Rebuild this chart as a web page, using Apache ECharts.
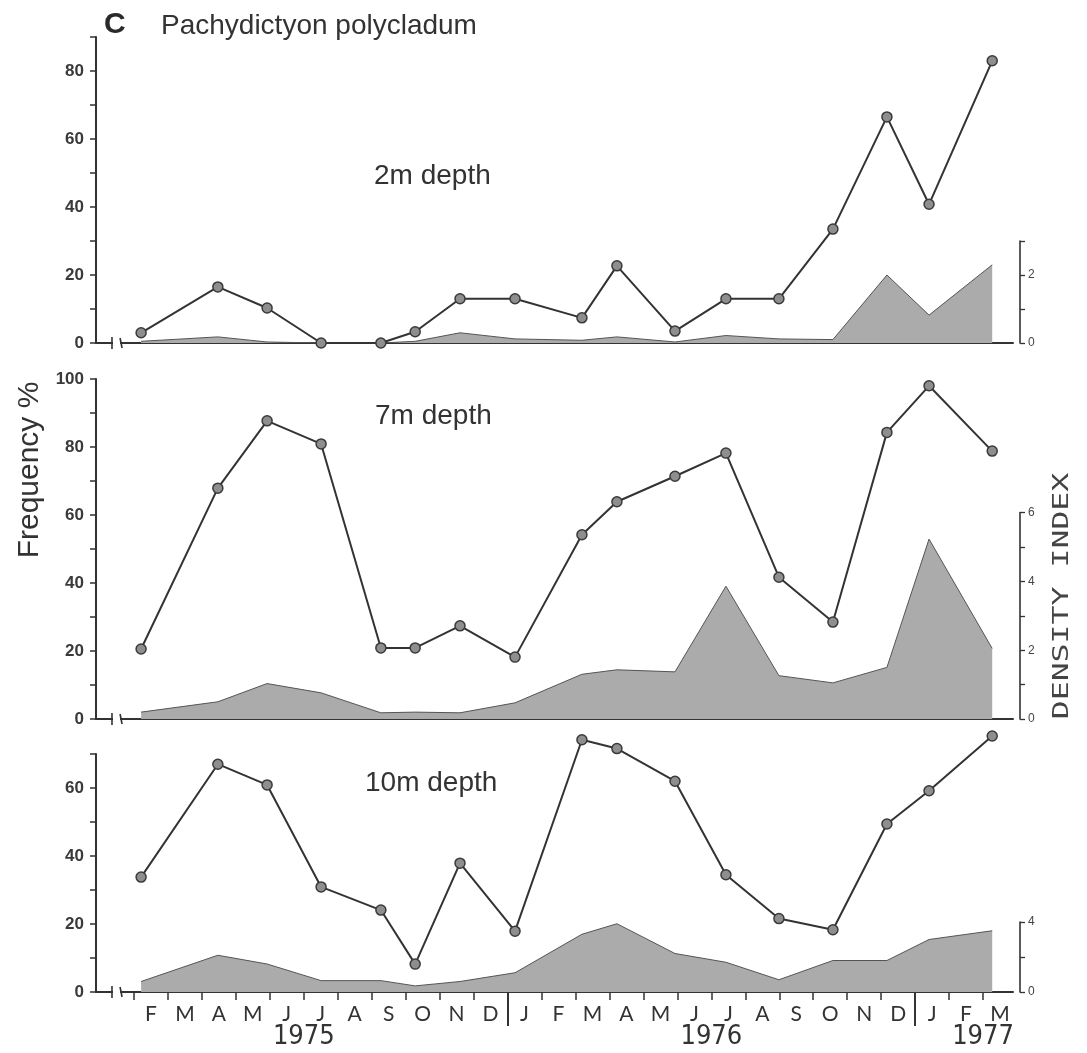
<!DOCTYPE html>
<html><head><meta charset="utf-8">
<script src="https://cdn.jsdelivr.net/npm/echarts@6/dist/echarts.min.js"></script>
<style>html,body{margin:0;padding:0;background:#fff}#c{width:1087px;height:1053px}</style>
</head><body><div id="c"></div>
<script>
// ---- DATA ----
// sampling dates, in months counted from 1 Jan 1975 (shared by all depths)
const sampleMonth = [1.21, 3.47, 4.92, 6.51, 8.27, 9.28, 10.60, 12.22, 14.19, 15.22, 16.93, 18.43, 19.99, 21.58, 23.17, 24.41, 26.27];
// frequency %
const freq2m  = [3, 16.5, 10.3, 0, 0, 3.3, 13, 13, 7.4, 22.7, 3.5, 13, 13, 33.5, 66.5, 40.8, 83];
const freq7m  = [20.6, 67.9, 87.7, 80.9, 20.9, 20.9, 27.4, 18.2, 54.2, 63.9, 71.4, 78.2, 41.7, 28.5, 84.3, 98, 78.8];
const freq10m = [33.8, 67, 60.9, 30.9, 24.1, 8.2, 37.9, 17.9, 74.2, 71.6, 62, 34.5, 21.6, 18.3, 49.4, 59.2, 75.3];
// density index
const dens2m  = [0.05, 0.18, 0.03, 0, 0, 0.05, 0.3, 0.12, 0.08, 0.18, 0.03, 0.22, 0.12, 0.1, 2.0, 0.82, 2.3];
const dens7m  = [0.2, 0.5, 1.03, 0.76, 0.18, 0.2, 0.18, 0.47, 1.3, 1.43, 1.37, 3.86, 1.26, 1.05, 1.5, 5.23, 2.05];
const dens10m = [0.6, 2.1, 1.6, 0.65, 0.65, 0.35, 0.6, 1.1, 3.3, 3.9, 2.2, 1.7, 0.7, 1.8, 1.8, 3.0, 3.5];
// axis labels
const monthLetters = ['J','F','M','A','M','J','J','A','S','O','N','D','J','F','M','A','M','J','J','A','S','O','N','D','J','F','M'];
const yearLabels = {6: '1975', 18: '1976', 26: '1977'};
const depthNames = ['2m depth', '7m depth', '10m depth'];
const freqMax = [90, 100, 70];
const densMax = [3, 6, 4];
const densTickStep = [1, 1, 2];
const densLabelStep = [2, 2, 4];

// ---- LAYOUT ----
const X0 = 100, K = 917 / 27;          // pixel of month 0, pixels per month
const GL = 96, GW = 917;                // panel grid left / width
const xMin = (GL - X0) / K, xMax = (GL + GW - X0) / K;
const FPX = 3.4;
const layout = [
  {base: 343, dPx: 34,   lx: 374, ly: 176},
  {base: 719, dPx: 34.4, lx: 375, ly: 416},
  {base: 992, dPx: 17.5, lx: 365, ly: 783}
];
const freqSeries = [freq2m, freq7m, freq10m];
const densSeries = [dens2m, dens7m, dens10m];
const ink = '#333';

const grid = [], xAxis = [], yAxis = [], series = [];
layout.forEach((L, i) => {
  const fh = freqMax[i] * FPX, dh = densMax[i] * L.dPx;
  grid.push({left: GL, width: GW, top: L.base - fh, height: fh});
  grid.push({left: GL, width: GW, top: L.base - dh, height: dh});
  const gi = grid.length - 2, gd = grid.length - 1;
  xAxis.push({gridIndex: gi, type: 'value', min: xMin, max: xMax,
    axisLine: {show: true, onZero: false, lineStyle: {color: ink, width: 2}},
    axisTick: {show: false}, axisLabel: {show: false}, splitLine: {show: false}});
  xAxis.push({gridIndex: gd, type: 'value', min: xMin, max: xMax, show: false, axisLine: {onZero: false}});
  yAxis.push({gridIndex: gi, type: 'value', min: 0, max: freqMax[i], interval: 10, position: 'left',
    axisLine: {show: true, onZero: false, lineStyle: {color: ink, width: 2}},
    axisTick: {show: true, length: 6, lineStyle: {color: ink, width: 1.5}},
    axisLabel: {margin: 12, fontSize: 17, fontWeight: 'bold', color: '#3a3a3a', fontFamily: 'Liberation Sans',
      formatter: v => (v % 20 === 0 ? String(v) : '')},
    splitLine: {show: false}});
  yAxis.push({gridIndex: gd, type: 'value', min: 0, max: densMax[i], interval: densTickStep[i], position: 'right', offset: 7,
    axisLine: {show: true, onZero: false, lineStyle: {color: ink, width: 1.6}},
    axisTick: {show: true, length: 5, lineStyle: {color: ink, width: 1.3}},
    axisLabel: {margin: 8, fontSize: 12, color: '#444', fontFamily: 'Liberation Sans',
      formatter: v => (v % densLabelStep[i] === 0 ? String(v) : '')},
    splitLine: {show: false}});
  series.push({type: 'line', xAxisIndex: gd, yAxisIndex: gd, z: 1,
    data: sampleMonth.map((m, k) => [m, densSeries[i][k]]),
    symbol: 'none', lineStyle: {color: '#555', width: 1},
    areaStyle: {color: '#ababab', opacity: 1}});
  series.push({type: 'line', xAxisIndex: gi, yAxisIndex: gi, z: 3, clip: false,
    data: sampleMonth.map((m, k) => [m, freqSeries[i][k]]),
    symbol: 'circle', symbolSize: 10,
    lineStyle: {color: ink, width: 2},
    itemStyle: {color: '#8e8e8e', borderColor: '#3a3a3a', borderWidth: 1.5}});
});

// bottom label axes
const bBase = layout[2].base;
// month ticks + year labels (months 1..26)
grid.push({left: X0 + K, width: 25 * K, top: bBase - 100, height: 100});
xAxis.push({gridIndex: grid.length - 1, type: 'value', min: 1, max: 26, interval: 1,
  axisLine: {show: false, onZero: false}, splitLine: {show: false},
  axisTick: {show: true, length: 8, lineStyle: {color: ink, width: 1.5}},
  axisLabel: {margin: 31, fontSize: 27, color: '#333', fontFamily: '"Liberation Sans Narrow","DejaVu Sans Condensed",sans-serif',
    formatter: v => yearLabels[v] || ''}});
yAxis.push({gridIndex: grid.length - 1, type: 'value', show: false});
// month letters (months 0..27 as bands)
grid.push({left: X0, width: 27 * K, top: bBase - 100, height: 100});
xAxis.push({gridIndex: grid.length - 1, type: 'category', data: monthLetters, boundaryGap: true,
  axisLine: {show: false, onZero: false}, axisTick: {show: false}, splitLine: {show: false},
  axisLabel: {interval: 0, margin: 12, fontSize: 21, color: '#333', fontFamily: 'Lato, "Liberation Sans", sans-serif',
    formatter: (v, idx) => (idx === 0 ? '' : v)}});
yAxis.push({gridIndex: grid.length - 1, type: 'value', show: false});
// year dividers (months 12..24)
grid.push({left: X0 + 12 * K, width: 12 * K, top: bBase - 100, height: 100});
xAxis.push({gridIndex: grid.length - 1, type: 'value', min: 12, max: 24, interval: 12,
  axisLine: {show: false, onZero: false}, splitLine: {show: false}, axisLabel: {show: false},
  axisTick: {show: true, length: 34, lineStyle: {color: ink, width: 2}}});
yAxis.push({gridIndex: grid.length - 1, type: 'value', show: false});

const chart = echarts.init(document.getElementById('c'), null, {renderer: 'canvas'});
chart.setOption({animation: false, backgroundColor: '#fff', grid, xAxis, yAxis, series});

// texts and axis-break marks
const graphic = [
  {type: 'text', left: 104, top: 10, style: {text: 'C', font: 'bold 30px "Liberation Sans"', fill: '#2a2a2a'}},
  {type: 'text', left: 161, top: 12, style: {text: 'Pachydictyon polycladum', font: '28px "Liberation Sans"', fill: '#333'}},
  {type: 'text', x: 30, y: 470, rotation: Math.PI / 2,
    style: {text: 'Frequency %', font: '30px "Liberation Sans"', fill: '#333', align: 'center', verticalAlign: 'middle'}},
  {type: 'text', x: 1063, y: 596, rotation: Math.PI / 2, scaleX: 1.5,
    style: {text: 'DENSITY INDEX', font: '21px "DejaVu Sans Mono"', fill: '#444', align: 'center', verticalAlign: 'middle'}}
];
layout.forEach((L, i) => {
  graphic.push({type: 'text', x: L.lx, y: L.ly,
    style: {text: depthNames[i], font: '28px "Liberation Sans"', fill: '#333', verticalAlign: 'middle'}});
  const gi = i * 2;
  const a = chart.convertToPixel({gridIndex: gi}, [0.353, 0]);
  const b = chart.convertToPixel({gridIndex: gi}, [0.62, 0]);
  graphic.push({type: 'rect', shape: {x: a[0] + 1, y: a[1] - 3, width: b[0] - a[0] - 2, height: 6}, style: {fill: '#fff'}, z: 100});
  graphic.push({type: 'line', shape: {x1: a[0], y1: a[1] - 6, x2: a[0], y2: a[1] + 6}, style: {stroke: ink, lineWidth: 1.6}, z: 101});
  graphic.push({type: 'line', shape: {x1: b[0] - 1, y1: b[1] - 5, x2: b[0] + 1, y2: b[1] + 5}, style: {stroke: ink, lineWidth: 1.6}, z: 101});
});
chart.setOption({graphic});
</script></body></html>
